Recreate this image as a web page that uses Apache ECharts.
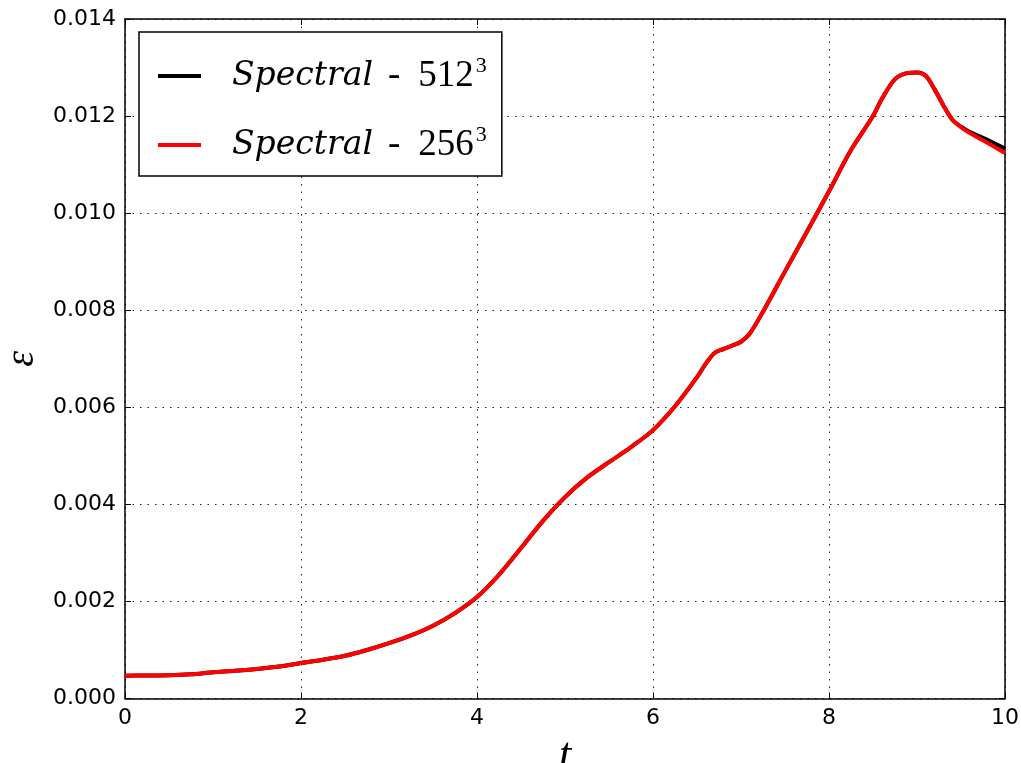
<!DOCTYPE html>
<html>
<head>
<meta charset="utf-8">
<script src="https://cdn.jsdelivr.net/npm/echarts@6/dist/echarts.min.js"></script>
<style>html,body{margin:0;padding:0;background:#fff;overflow:hidden;}#c{width:1021px;height:763px;}</style>
</head>
<body>
<div id="c"></div>
<script>
// time samples
const t = [0, 0.25, 0.5, 0.75, 1.0, 1.25, 1.5, 1.75, 2.0, 2.25, 2.5, 2.75, 3.0, 3.25, 3.5, 3.75, 4.0, 4.25, 4.5, 4.75, 5.0, 5.25, 5.5, 5.75, 6.0, 6.25, 6.5, 6.6, 6.7, 6.8, 6.9, 7.0, 7.1, 7.25, 7.5, 7.75, 8.0, 8.25, 8.5, 8.6, 8.75, 8.9, 9.0, 9.1, 9.2, 9.3, 9.4, 9.5, 9.6, 9.75, 10.0];
// dissipation, 512^3
const eps512 = [0.00047, 0.000475, 0.00048, 0.00050, 0.00054, 0.00057, 0.00061, 0.00066, 0.00073, 0.00080, 0.00088, 0.00100, 0.00114, 0.00130, 0.00150, 0.00176, 0.00209, 0.00255, 0.00310, 0.00366, 0.00415, 0.00455, 0.00487, 0.00518, 0.00553, 0.00602, 0.00662, 0.00690, 0.00712, 0.00720, 0.00727, 0.00735, 0.00752, 0.00797, 0.00880, 0.00962, 0.01045, 0.01130, 0.01200, 0.01235, 0.01276, 0.01289, 0.01290, 0.01283, 0.01255, 0.01222, 0.01193, 0.01178, 0.01167, 0.01155, 0.01133];
// dissipation, 256^3
const eps256 = [0.00047, 0.000475, 0.00048, 0.00050, 0.00054, 0.00057, 0.00061, 0.00066, 0.00073, 0.00080, 0.00088, 0.00100, 0.00114, 0.00130, 0.00150, 0.00176, 0.00209, 0.00255, 0.00310, 0.00366, 0.00415, 0.00455, 0.00487, 0.00518, 0.00553, 0.00602, 0.00662, 0.00690, 0.00712, 0.00720, 0.00727, 0.00735, 0.00752, 0.00797, 0.00880, 0.00962, 0.01045, 0.01130, 0.01200, 0.01235, 0.01276, 0.01289, 0.01290, 0.01283, 0.01255, 0.01222, 0.01193, 0.01177, 0.01165, 0.01150, 0.01124];
const seriesNames = ['Spectral - 512', 'Spectral - 256'];

const pair = (ys) => t.map((x, i) => [x, ys[i]]);
const chart = echarts.init(document.getElementById('c'));
const gridLine = {show: true, lineStyle: {color: '#222', width: 1, type: [1.5, 6]}};
const tick = {show: true, inside: true, length: 6, lineStyle: {color: '#000', width: 1}};
const spine = {show: true, onZero: false, lineStyle: {color: '#000', width: 1.5}};
const lbl = {color: '#000', fontFamily: 'DejaVu Sans', fontSize: 22};
chart.setOption({
  animation: false,
  backgroundColor: '#fff',
  grid: {left: 125, right: 16, top: 19, bottom: 64.5, containLabel: false, outerBoundsMode: 'none'},
  xAxis: [
    {type: 'value', min: 0, max: 10, interval: 2, position: 'bottom',
     axisLine: spine, axisTick: tick, splitLine: gridLine,
     axisLabel: Object.assign({margin: 9}, lbl),
     name: 't', nameLocation: 'middle', nameGap: 47,
     nameTextStyle: {fontFamily: 'Liberation Serif', fontStyle: 'italic', fontSize: 44, color: '#000', verticalAlign: 'middle'}},
    {type: 'value', min: 0, max: 10, interval: 2, position: 'top',
     axisLine: spine, axisTick: tick, splitLine: {show: false}, axisLabel: {show: false}}
  ],
  yAxis: [
    {type: 'value', min: 0, max: 0.014, interval: 0.002, position: 'left',
     axisLine: spine, axisTick: tick, splitLine: gridLine,
     axisLabel: Object.assign({margin: 9, formatter: (v) => v.toFixed(3)}, lbl),
     name: 'ε', nameLocation: 'middle', nameGap: 98, nameRotate: 90,
     nameTextStyle: {fontFamily: 'Liberation Serif', fontStyle: 'italic', fontSize: 40, color: '#000', verticalAlign: 'middle'}},
    {type: 'value', min: 0, max: 0.014, interval: 0.002, position: 'right',
     axisLine: spine, axisTick: tick, splitLine: {show: false}, axisLabel: {show: false}}
  ],
  legend: {
    orient: 'vertical', left: 139, top: 32,
    padding: [23, 15, 10, 19], itemGap: 27, itemWidth: 43, itemHeight: 4,
    borderColor: '#000', borderWidth: 1.5, borderRadius: 0,
    backgroundColor: '#fff',
    data: seriesNames.map(n => ({name: n, icon: 'rect'})),
    formatter: (name) => {
      const parts = name.split(' - ');
      return '{i|' + parts[0] + '}{d|-}{n|' + parts[1] + '}{s|3}';
    },
    textStyle: {
      rich: {
        i: {fontFamily: 'DejaVu Serif', fontStyle: 'italic', fontSize: 33, color: '#000', padding: [0, 0, 0, 26], lineHeight: 40},
        d: {fontFamily: 'Liberation Serif', fontSize: 37, color: '#000', lineHeight: 40, padding: [0, 18, 0, 15]},
        n: {fontFamily: 'Liberation Serif', fontSize: 37, color: '#000', lineHeight: 40},
        s: {fontFamily: 'Liberation Serif', fontSize: 22, color: '#000', padding: [0, 0, 20, 2], lineHeight: 40}
      }
    }
  },
  series: [
    {name: seriesNames[0], type: 'line', data: pair(eps512), smooth: 0.3, symbol: 'none',
     itemStyle: {color: '#000'}, lineStyle: {color: '#000', width: 4}, z: 3},
    {name: seriesNames[1], type: 'line', data: pair(eps256), smooth: 0.3, symbol: 'none',
     itemStyle: {color: '#ff0000'}, lineStyle: {color: '#ff0000', width: 4}, z: 4}
  ]
});
</script>
</body>
</html>
